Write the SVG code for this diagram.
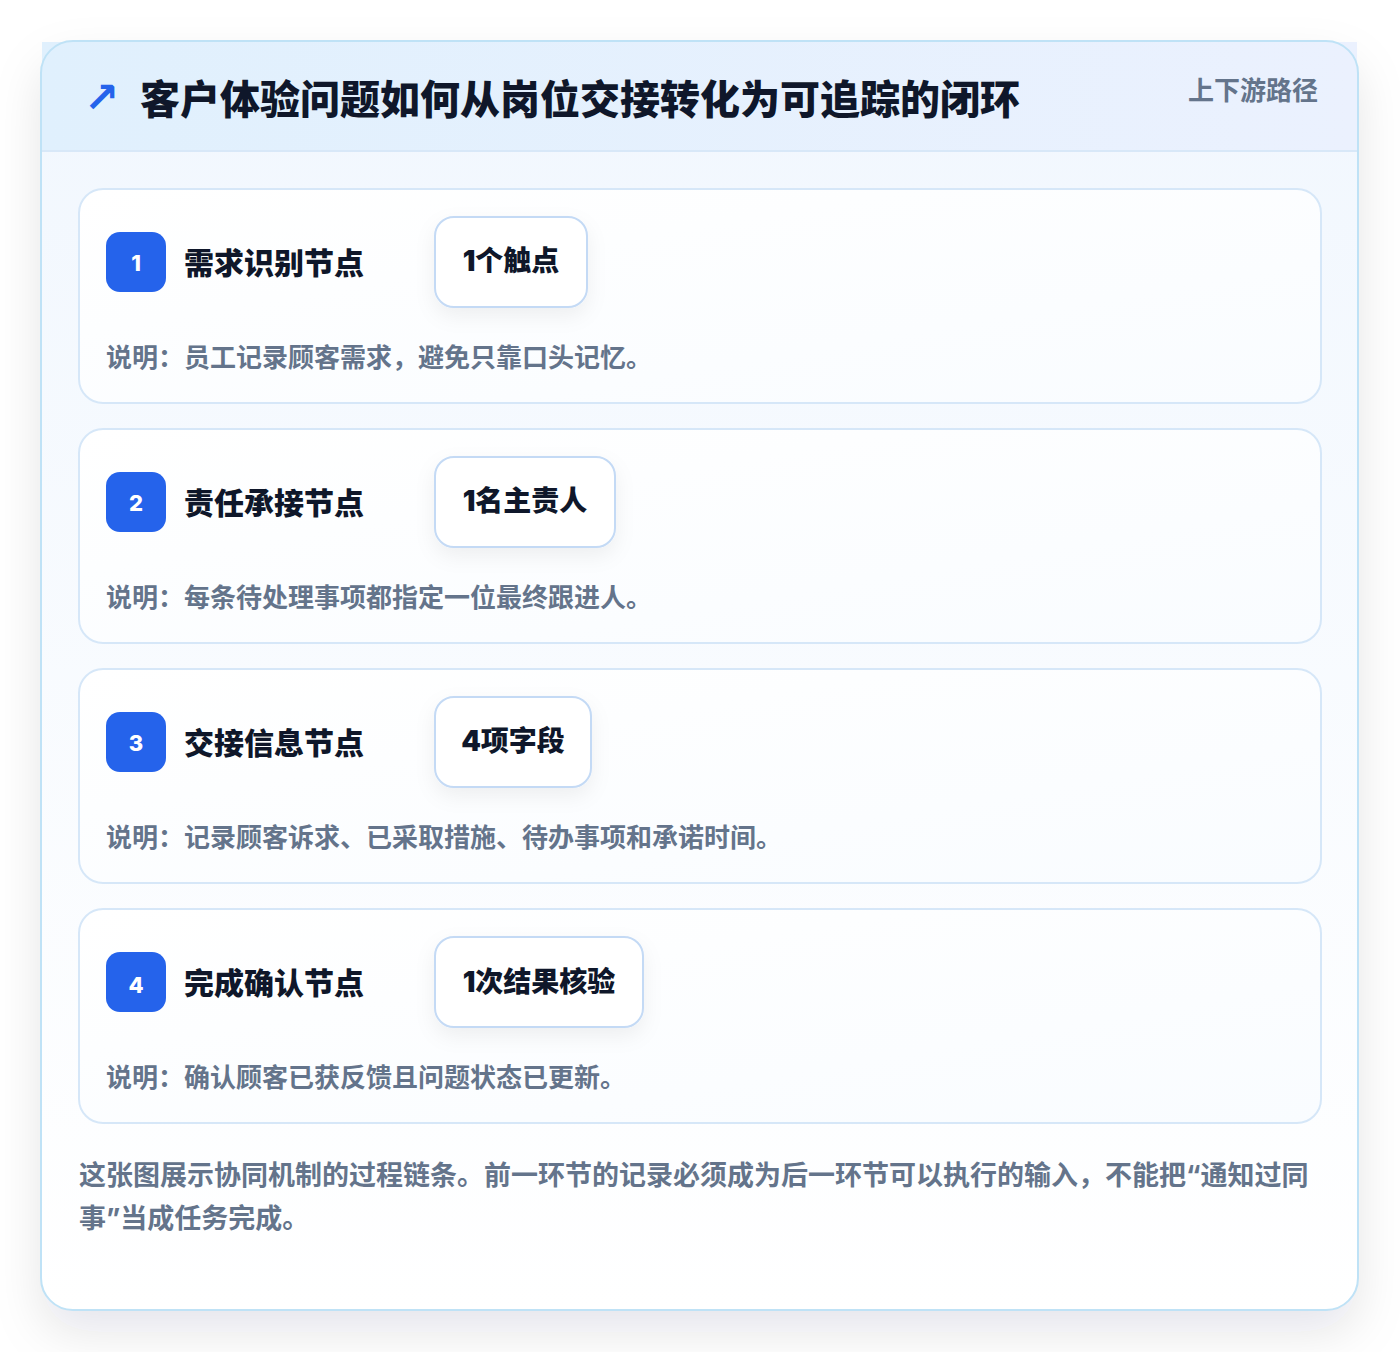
<svg xmlns="http://www.w3.org/2000/svg" width="1400" height="1352" viewBox="0 0 1400 1352">
<defs>
<filter id="shadow" x="-10%" y="-10%" width="120%" height="125%">
<feDropShadow dx="0" dy="22" stdDeviation="24" flood-color="#0f172a" flood-opacity="0.10"/>
</filter>
<filter id="pillShadow" x="-30%" y="-30%" width="160%" height="180%">
<feDropShadow dx="0" dy="8" stdDeviation="10" flood-color="#0f172a" flood-opacity="0.06"/>
</filter>
<linearGradient id="hdr" x1="0" y1="0" x2="1" y2="0">
<stop offset="0" stop-color="#e0f0fd"/>
<stop offset="1" stop-color="#ebf1fe"/>
</linearGradient>
<linearGradient id="body" x1="0" y1="0" x2="0" y2="1">
<stop offset="0" stop-color="#f1f7fe"/>
<stop offset="1" stop-color="#ffffff"/>
</linearGradient>
<linearGradient id="stepfill" x1="0" y1="0" x2="1" y2="1">
<stop offset="0" stop-color="#ffffff"/>
<stop offset="1" stop-color="#f9fcff"/>
</linearGradient>
</defs>
<style>
text{font-family:Inter,"Noto Sans CJK SC","Noto Sans",sans-serif;font-weight:700}
.title{font-size:40px;fill:#0f172a;font-weight:900}
.tag{font-size:26px;fill:#64748b}
.step{fill:url(#stepfill);stroke:#d6e7f8;stroke-width:2}
.badge{fill:#2563eb}
.num{font-size:22px;fill:#ffffff;text-anchor:middle;font-weight:800}
.stitle{font-size:30px;fill:#0f172a;font-weight:900}
.pill{fill:#ffffff;stroke:#c4daf5;stroke-width:2}
.ptext{font-size:28px;fill:#0f172a;text-anchor:middle;font-weight:900}
.desc{font-size:26px;fill:#64748b}
.foot{font-size:27px;fill:#64748b}
</style>
<rect width="1400" height="1352" fill="#ffffff"/>
<g id="card">
<rect x="41" y="41" width="1317" height="1269" rx="32" fill="url(#body)" filter="url(#shadow)"/>
<rect x="42" y="42" width="1315" height="109" fill="url(#hdr)"/>
<line x1="42" y1="151" x2="1357" y2="151" stroke="#d8e8f8" stroke-width="2"/>
<rect x="41" y="41" width="1317" height="1269" rx="32" fill="none" stroke="#bfe2f6" stroke-width="2"/>
</g>
<g id="header">
<text x="84" y="112" style="font-size:42px;fill:#2563eb;font-family:'DejaVu Sans',sans-serif;font-weight:700">↗</text>
<text class="title" x="140" y="114">客户体验问题如何从岗位交接转化为可追踪的闭环</text>
<text class="tag" x="1318" y="100" text-anchor="end">上下游路径</text>
</g>
<g id="connectors"></g>
<g id="step1">
<rect class="step" x="79" y="189" width="1242" height="214" rx="24"/>
<rect class="badge" x="106" y="232" width="60" height="60" rx="14"/>
<text class="num" x="136" y="271">1</text>
<text class="stitle" x="184" y="274">需求识别节点</text>
<rect class="pill" x="435" y="217" width="152" height="90" rx="19" filter="url(#pillShadow)"/>
<text class="ptext" x="511" y="271">1个触点</text>
<text class="desc" x="106" y="367">说明：员工记录顾客需求，避免只靠口头记忆。</text>
</g>
<g id="step2">
<rect class="step" x="79" y="429" width="1242" height="214" rx="24"/>
<rect class="badge" x="106" y="472" width="60" height="60" rx="14"/>
<text class="num" x="136" y="511">2</text>
<text class="stitle" x="184" y="514">责任承接节点</text>
<rect class="pill" x="435" y="457" width="180" height="90" rx="19" filter="url(#pillShadow)"/>
<text class="ptext" x="525" y="511">1名主责人</text>
<text class="desc" x="106" y="607">说明：每条待处理事项都指定一位最终跟进人。</text>
</g>
<g id="step3">
<rect class="step" x="79" y="669" width="1242" height="214" rx="24"/>
<rect class="badge" x="106" y="712" width="60" height="60" rx="14"/>
<text class="num" x="136" y="751">3</text>
<text class="stitle" x="184" y="754">交接信息节点</text>
<rect class="pill" x="435" y="697" width="156" height="90" rx="19" filter="url(#pillShadow)"/>
<text class="ptext" x="513" y="751">4项字段</text>
<text class="desc" x="106" y="847">说明：记录顾客诉求、已采取措施、待办事项和承诺时间。</text>
</g>
<g id="step4">
<rect class="step" x="79" y="909" width="1242" height="214" rx="24"/>
<rect class="badge" x="106" y="952" width="60" height="60" rx="14"/>
<text class="num" x="136" y="993">4</text>
<text class="stitle" x="184" y="994">完成确认节点</text>
<rect class="pill" x="435" y="937" width="208" height="90" rx="19" filter="url(#pillShadow)"/>
<text class="ptext" x="539" y="992">1次结果核验</text>
<text class="desc" x="106" y="1087">说明：确认顾客已获反馈且问题状态已更新。</text>
</g>
<g id="footer">
<text class="foot" x="79" y="1185">这张图展示协同机制的过程链条。前一环节的记录必须成为后一环节可以执行的输入，不能把“通知过同</text>
<text class="foot" x="79" y="1228">事”当成任务完成。</text>
</g>
</svg>
